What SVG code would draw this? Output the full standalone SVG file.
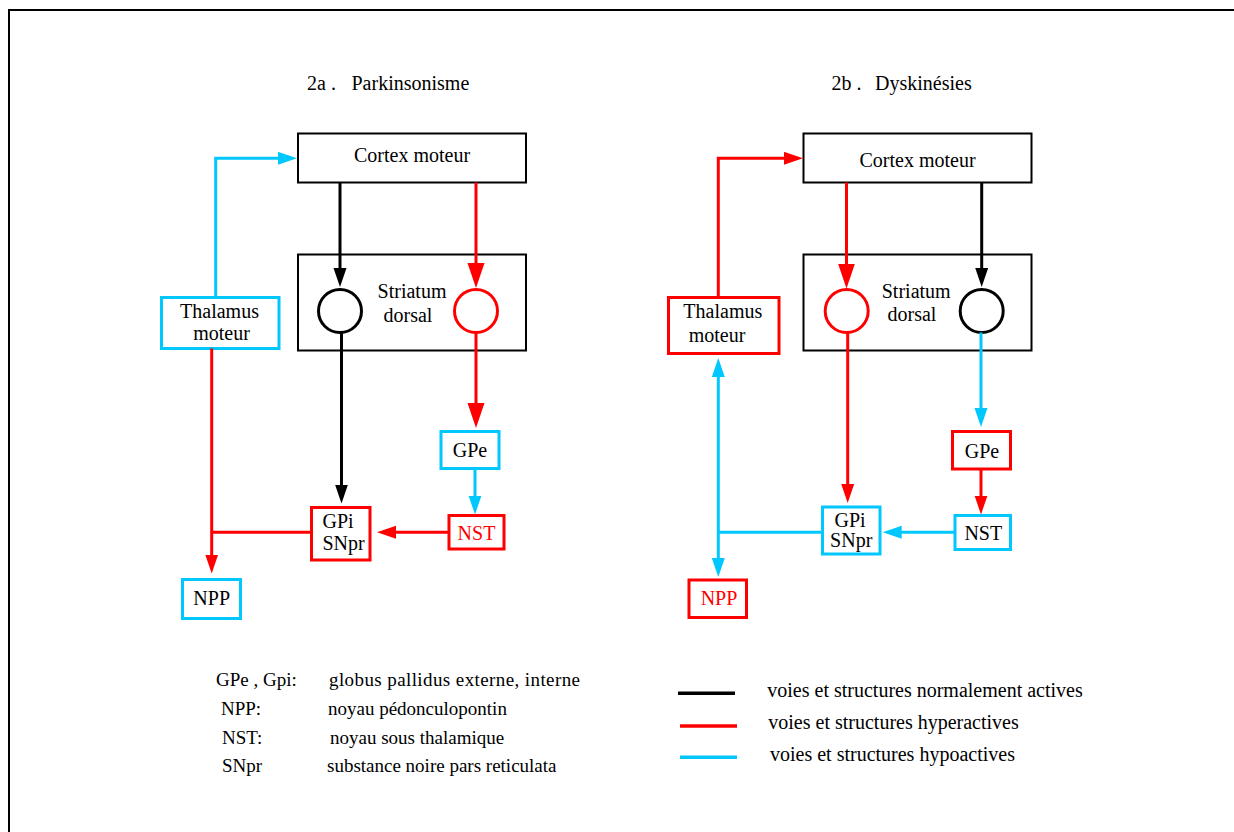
<svg xmlns="http://www.w3.org/2000/svg" width="1234" height="832" viewBox="0 0 1234 832">
<style>
text{font-family:"Liberation Serif","Times New Roman",serif;font-size:20px;fill:#000}
.c{text-anchor:middle}
.red{fill:#ff0000}
.bk{fill:#fff;stroke:#000;stroke-width:2}
.rb{fill:#fff;stroke:#ff0000;stroke-width:3}
.bb{fill:#fff;stroke:#00c8ff;stroke-width:3}
.ln{fill:none;stroke-width:3}
.lk{stroke:#000}
.lr{stroke:#ff0000}
.lb{stroke:#00c8ff}
.lg{font-size:19px}
</style>
<defs>
<marker id="ak" markerUnits="userSpaceOnUse" markerWidth="20" markerHeight="14" refX="9" refY="6.5" orient="auto-start-reverse"><path d="M0,0 L19,6.5 L0,13 z" fill="#000"/></marker>
<marker id="ar" markerUnits="userSpaceOnUse" markerWidth="20" markerHeight="14" refX="9" refY="6.5" orient="auto-start-reverse"><path d="M0,0 L19,6.5 L0,13 z" fill="#ff0000"/></marker>
<marker id="ab" markerUnits="userSpaceOnUse" markerWidth="20" markerHeight="14" refX="9" refY="6.5" orient="auto-start-reverse"><path d="M0,0 L19,6.5 L0,13 z" fill="#00c8ff"/></marker>
<marker id="arB" markerUnits="userSpaceOnUse" markerWidth="25" markerHeight="18" refX="12" refY="8.5" orient="auto"><path d="M0,0 L25,8.5 L0,17 z" fill="#ff0000"/></marker>
</defs>
<rect width="1234" height="832" fill="#fff"/>
<path d="M9,832 V10 H1234" fill="none" stroke="#000" stroke-width="2"/>

<text x="307" y="90">2a .<tspan x="351.5">Parkinsonisme</tspan></text>
<text x="831.5" y="90">2b .<tspan x="875">Dyskinésies</tspan></text>

<g id="cortex-a"><rect class="bk" x="298" y="133.5" width="228" height="49"/><text class="c" x="412" y="162">Cortex moteur</text></g>
<g id="striatum-a"><rect class="bk" x="298" y="254.5" width="228" height="96"/>
  <circle cx="340" cy="311" r="21.5" fill="#fff" stroke="#000" stroke-width="3"/>
  <circle cx="476" cy="311" r="21.5" fill="#fff" stroke="#ff0000" stroke-width="3"/>
  <text class="c" x="412" y="298">Striatum</text><text class="c" x="408" y="321.5">dorsal</text></g>
<g id="thalamus-a"><rect class="bb" x="161.5" y="297.5" width="117.5" height="51"/><text class="c" x="219.5" y="317.5">Thalamus</text><text class="c" x="221.5" y="339.5">moteur</text></g>
<g id="gpe-a"><rect class="bb" x="441" y="431.5" width="58" height="37"/><text class="c" x="470" y="457.3">GPe</text></g>
<g id="nst-a"><rect class="rb" x="449" y="515.5" width="55" height="33.5"/><text class="c red" x="476.5" y="540">NST</text></g>
<g id="gpi-a"><rect class="rb" x="311.5" y="507.5" width="58.5" height="52.5"/><text x="322.5" y="528.3">GPi</text><text x="322.5" y="550">SNpr</text></g>
<g id="npp-a"><rect class="bb" x="182.5" y="579.5" width="58" height="39"/><text class="c" x="211.7" y="605">NPP</text></g>

<g id="cortex-b"><rect class="bk" x="803.5" y="133.5" width="228" height="49"/><text class="c" x="917.5" y="167">Cortex moteur</text></g>
<g id="striatum-b"><rect class="bk" x="803.5" y="254.5" width="228" height="96"/>
  <circle cx="846.7" cy="311" r="21.5" fill="#fff" stroke="#ff0000" stroke-width="3"/>
  <circle cx="981.7" cy="311" r="21.5" fill="#fff" stroke="#000" stroke-width="3"/>
  <text class="c" x="916.2" y="297.7">Striatum</text><text class="c" x="912" y="320.7">dorsal</text></g>
<g id="thalamus-b"><rect class="rb" x="668.5" y="297.5" width="110.5" height="56"/><text class="c" x="722.8" y="318.3">Thalamus</text><text class="c" x="717" y="342.3">moteur</text></g>
<g id="gpe-b"><rect class="rb" x="952.5" y="431.5" width="58" height="37.5"/><text class="c" x="982" y="457.7">GPe</text></g>
<g id="nst-b"><rect class="bb" x="955" y="515.5" width="55.5" height="34"/><text class="c" x="983.3" y="540">NST</text></g>
<g id="gpi-b"><rect class="bb" x="822.5" y="507" width="57.5" height="47"/><text class="c" x="850" y="526.7">GPi</text><text class="c" x="851.2" y="547.3">SNpr</text></g>
<g id="npp-b"><rect class="rb" x="689" y="580" width="57.5" height="37.5"/><text class="c red" x="719" y="605">NPP</text></g>

<g id="connectors">
  <path class="ln lb" d="M215.7,297 V158.3 H287" marker-end="url(#ab)"/>
  <path class="ln lk" d="M340,182.5 V277" marker-end="url(#ak)"/>
  <path class="ln lr" d="M476,182.5 V275" marker-end="url(#arB)"/>
  <path class="ln lk" d="M341.5,332.5 V493.5" marker-end="url(#ak)"/>
  <path class="ln lr" d="M476,332.5 V415" marker-end="url(#arB)"/>
  <path class="ln lb" d="M475,468.5 V504.5" marker-end="url(#ab)"/>
  <path class="ln lr" d="M449,532.3 H387" marker-end="url(#ar)"/>
  <path class="ln lr" d="M211.7,348.5 V563.5" marker-end="url(#ar)"/>
  <path class="ln lr" d="M311.5,532.3 H211.7"/>

  <path class="ln lr" d="M718.3,297 V158.3 H793" marker-end="url(#ar)"/>
  <path class="ln lr" d="M846.5,182.5 V275.5" marker-end="url(#arB)"/>
  <path class="ln lk" d="M981.7,182.5 V277" marker-end="url(#ak)"/>
  <path class="ln lr" d="M847.7,332.5 V493" marker-end="url(#ar)"/>
  <path class="ln lb" d="M981,332.5 V417" marker-end="url(#ab)"/>
  <path class="ln lr" d="M981,469 V504.5" marker-end="url(#ar)"/>
  <path class="ln lb" d="M955,532.3 H892.7" marker-end="url(#ab)"/>
  <path class="ln lb" d="M718.3,368 V567" marker-start="url(#ab)" marker-end="url(#ab)"/>
  <path class="ln lb" d="M822.5,532.3 H718.3"/>
</g>

<g id="legend-abbr">
  <text class="lg" x="216" y="686">GPe , Gpi:</text><text class="lg" x="329" y="686" textLength="251" lengthAdjust="spacing">globus pallidus externe, interne</text>
  <text class="lg" x="221" y="715">NPP:</text><text class="lg" x="328" y="715">noyau pédonculopontin</text>
  <text class="lg" x="222" y="744">NST:</text><text class="lg" x="330" y="744">noyau sous thalamique</text>
  <text class="lg" x="222" y="772">SNpr</text><text class="lg" x="327" y="772">substance noire pars reticulata</text>
</g>
<g id="legend-lines">
  <line x1="678" y1="693.3" x2="735" y2="693.3" stroke="#000" stroke-width="3.5"/>
  <line x1="680" y1="726" x2="737" y2="726" stroke="#ff0000" stroke-width="3.5"/>
  <line x1="680" y1="757.3" x2="737" y2="757.3" stroke="#00c8ff" stroke-width="3.5"/>
  <text x="767.3" y="697.3">voies et structures normalement actives</text>
  <text x="768.3" y="729">voies et structures hyperactives</text>
  <text x="770" y="760.7">voies et structures hypoactives</text>
</g>
</svg>
